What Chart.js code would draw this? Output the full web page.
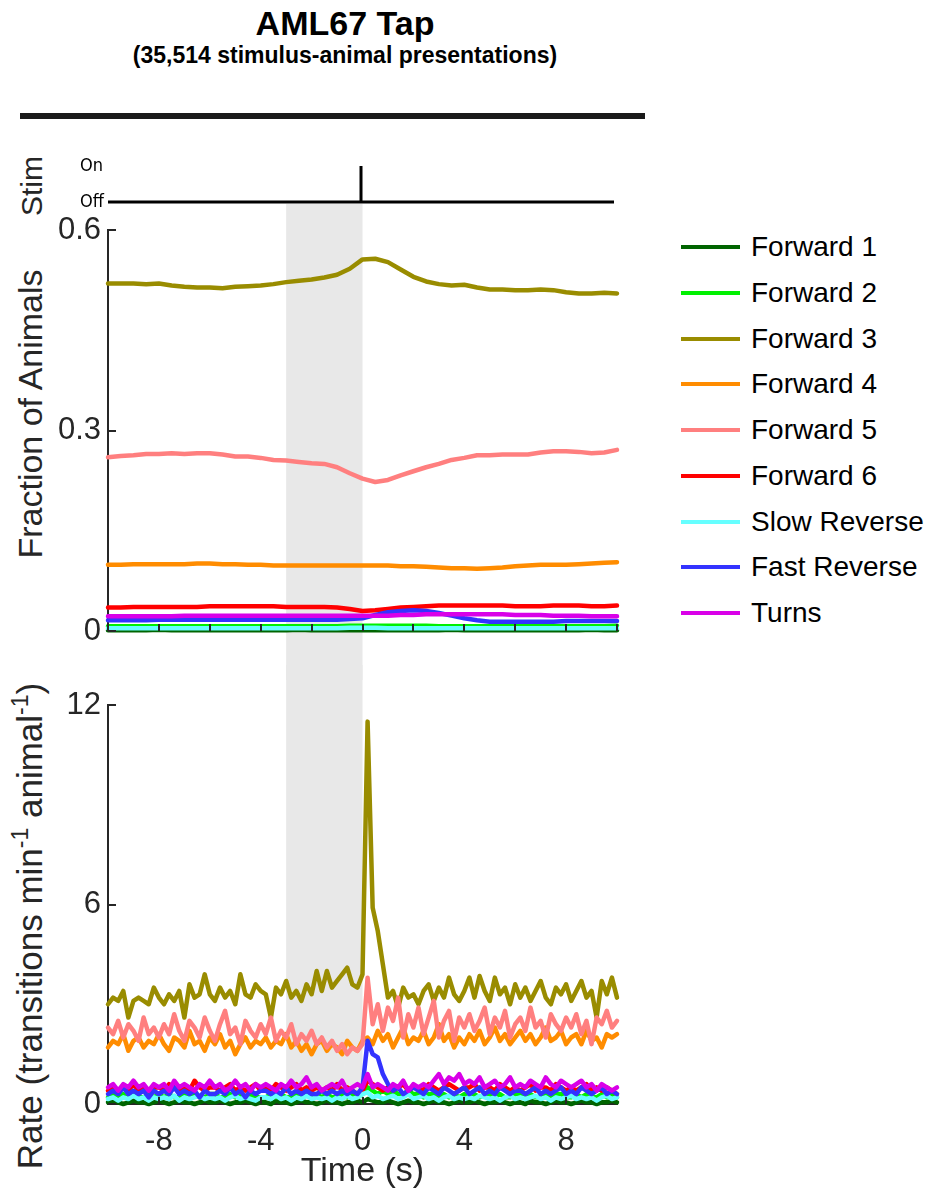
<!DOCTYPE html>
<html>
<head>
<meta charset="utf-8">
<title>AML67 Tap</title>
<script src="https://cdn.jsdelivr.net/npm/chart.js@4.4.1/dist/chart.umd.min.js"></script>
<style>
  body { margin: 0; background: #fff; }
  #fig { position: relative; width: 936px; height: 1193px; font-family: 'Liberation Sans', Arial, Helvetica, sans-serif; color: #262626; }
  #fig canvas { position: absolute; left: 0; }
  .head { position: absolute; left: 0; width: 690px; font-weight: bold; color: #000; text-align: center; white-space: nowrap; }
  #headline { top: 6px; font-size: 34px; line-height: 34px; }
  #subline { top: 44px; font-size: 23px; line-height: 23px; }
  #rule { position: absolute; left: 20px; top: 113px; width: 625px; height: 6px; background: #1a1a1a; }
  .ylab { position: absolute; white-space: nowrap; transform: translate(-50%, -50%) rotate(-90deg); font-size: 34px; line-height: 34px; }
  .ylab sup { font-size: 23px; vertical-align: 14px; line-height: 0; }
  #stimLab { left: 32px; top: 186px; font-size: 30px; }
  #fracLab { left: 30px; top: 414px; }
  #rateLab { left: 30px; top: 926px; font-size: 35px; }
  .key { position: absolute; left: 681px; width: 260px; height: 32px; }
  .key i { position: absolute; left: 0; top: 14px; width: 59px; height: 4px; }
  .key span { position: absolute; left: 70px; top: 0; font-size: 28px; line-height: 32px; color: #000; white-space: nowrap; }
</style>
</head>
<body>
<div id="fig">
  <div class="head" id="headline">AML67 Tap</div>
  <div class="head" id="subline">(35,514 stimulus-animal presentations)</div>
  <div id="rule"></div>
  <div class="ylab" id="stimLab">Stim</div>
  <div class="ylab" id="fracLab">Fraction of Animals</div>
  <div class="ylab" id="rateLab">Rate (transitions min<sup>-1</sup> animal<sup>-1</sup>)</div>
  <canvas id="stimCanvas" width="640" height="70" style="top:150px"></canvas>
  <canvas id="fracCanvas" width="640" height="490" style="top:190px"></canvas>
  <canvas id="rateCanvas" width="640" height="528" style="top:665px"></canvas>
</div>
<script>
// behaviour states, same order in both panels and the key
const behaviours = ['Forward 1', 'Forward 2', 'Forward 3', 'Forward 4', 'Forward 5', 'Forward 6', 'Slow Reverse', 'Fast Reverse', 'Turns'];
const lineColors = ['#006400', '#00f000', '#998c00', '#ff8c00', '#ff7f7f', '#ff0000', '#66ffff', '#3333ff', '#d900e8'];

// stimulus trace
const stimTime = [-10, 0, 0, 0, 10];
const stimState = [0, 0, 1, 0, 0];
const stimLevels = ['Off', 'On'];

// window shaded before the tap (s)
const shadeStart = -3;
const shadeEnd = 0;

const timeTicks = [-8, -4, 0, 4, 8];

// fraction of animals in each state, 0.5 s bins
const fracTime = [-10, -9.5, -9, -8.5, -8, -7.5, -7, -6.5, -6, -5.5, -5, -4.5, -4, -3.5, -3, -2.5, -2, -1.5, -1, -0.5,
  0, 0.5, 1, 1.5, 2, 2.5, 3, 3.5, 4, 4.5, 5, 5.5, 6, 6.5, 7, 7.5, 8, 8.5, 9, 9.5, 10];

const fracFwd1 = [0.001, 0.001, 0.001, 0.001, 0.002, 0.001, 0.001, 0.001, 0.001, 0.001,
  0.001, 0.001, 0.001, 0.001, 0.001, 0.002, 0.001, 0.001, 0.001, 0.001,
  0.001, 0.001, 0.001, 0.001, 0.001, 0.001, 0.001, 0.002, 0.001, 0.001,
  0.001, 0.001, 0.001, 0.001, 0.001, 0.001, 0.001, 0.001, 0.002, 0.001, 0.001];
const fracFwd2 = [0.007, 0.007, 0.007, 0.007, 0.007, 0.007, 0.007, 0.007, 0.007, 0.007,
  0.007, 0.007, 0.007, 0.007, 0.007, 0.007, 0.007, 0.007, 0.007, 0.008,
  0.008, 0.008, 0.008, 0.008, 0.008, 0.008, 0.007, 0.007, 0.007, 0.007,
  0.007, 0.007, 0.007, 0.007, 0.007, 0.007, 0.007, 0.007, 0.007, 0.007, 0.008];
const fracFwd3 = [0.520, 0.520, 0.520, 0.519, 0.520, 0.517, 0.515, 0.514, 0.514, 0.513,
  0.515, 0.516, 0.517, 0.519, 0.522, 0.524, 0.526, 0.529, 0.533, 0.542,
  0.556, 0.557, 0.552, 0.541, 0.530, 0.523, 0.519, 0.517, 0.518, 0.514,
  0.511, 0.511, 0.510, 0.510, 0.511, 0.510, 0.507, 0.505, 0.505, 0.506, 0.505];
const fracFwd4 = [0.099, 0.099, 0.100, 0.100, 0.100, 0.100, 0.100, 0.101, 0.101, 0.100,
  0.100, 0.099, 0.099, 0.098, 0.098, 0.098, 0.098, 0.098, 0.098, 0.098,
  0.098, 0.098, 0.098, 0.097, 0.097, 0.096, 0.095, 0.094, 0.094, 0.093,
  0.094, 0.095, 0.097, 0.098, 0.099, 0.099, 0.099, 0.100, 0.101, 0.102, 0.103];
const fracFwd5 = [0.260, 0.262, 0.263, 0.265, 0.265, 0.266, 0.265, 0.266, 0.266, 0.264,
  0.261, 0.261, 0.259, 0.256, 0.255, 0.253, 0.251, 0.250, 0.245, 0.236,
  0.228, 0.223, 0.226, 0.233, 0.239, 0.245, 0.250, 0.256, 0.259, 0.263,
  0.263, 0.264, 0.264, 0.264, 0.267, 0.269, 0.269, 0.268, 0.266, 0.267, 0.271];
const fracFwd6 = [0.035, 0.035, 0.036, 0.036, 0.036, 0.036, 0.036, 0.036, 0.037, 0.037,
  0.037, 0.037, 0.037, 0.037, 0.036, 0.036, 0.036, 0.036, 0.035, 0.033,
  0.030, 0.031, 0.033, 0.035, 0.036, 0.037, 0.038, 0.038, 0.038, 0.038,
  0.038, 0.038, 0.037, 0.037, 0.037, 0.038, 0.038, 0.038, 0.037, 0.037, 0.038];
const fracSlowRev = [0.004, 0.004, 0.004, 0.004, 0.004, 0.004, 0.004, 0.004, 0.004, 0.004,
  0.004, 0.004, 0.004, 0.004, 0.004, 0.004, 0.004, 0.004, 0.004, 0.005,
  0.005, 0.005, 0.004, 0.004, 0.004, 0.004, 0.004, 0.004, 0.004, 0.004,
  0.004, 0.004, 0.004, 0.004, 0.004, 0.004, 0.004, 0.004, 0.004, 0.004, 0.004];
const fracFastRev = [0.016, 0.016, 0.016, 0.016, 0.017, 0.017, 0.017, 0.017, 0.017, 0.017,
  0.017, 0.017, 0.017, 0.017, 0.017, 0.017, 0.017, 0.017, 0.017, 0.018,
  0.019, 0.024, 0.028, 0.030, 0.031, 0.030, 0.027, 0.023, 0.019, 0.016,
  0.014, 0.014, 0.014, 0.014, 0.014, 0.014, 0.015, 0.015, 0.015, 0.015, 0.015];
const fracTurns = [0.022, 0.022, 0.022, 0.022, 0.022, 0.022, 0.023, 0.023, 0.023, 0.023,
  0.023, 0.023, 0.023, 0.023, 0.023, 0.023, 0.023, 0.023, 0.023, 0.023,
  0.023, 0.023, 0.023, 0.024, 0.024, 0.025, 0.025, 0.025, 0.025, 0.025,
  0.025, 0.025, 0.024, 0.024, 0.024, 0.023, 0.023, 0.023, 0.022, 0.022, 0.022];

// transition rates (per min per animal), 0.2 s bins
const rateTime = [-10,
  -9.8, -9.6, -9.4, -9.2, -9, -8.8, -8.6, -8.4, -8.2, -8,
  -7.8, -7.6, -7.4, -7.2, -7, -6.8, -6.6, -6.4, -6.2, -6,
  -5.8, -5.6, -5.4, -5.2, -5, -4.8, -4.6, -4.4, -4.2, -4,
  -3.8, -3.6, -3.4, -3.2, -3, -2.8, -2.6, -2.4, -2.2, -2,
  -1.8, -1.6, -1.4, -1.2, -1, -0.8, -0.6, -0.4, -0.2, 0,
  0.2, 0.4, 0.6, 0.8, 1, 1.2, 1.4, 1.6, 1.8, 2,
  2.2, 2.4, 2.6, 2.8, 3, 3.2, 3.4, 3.6, 3.8, 4,
  4.2, 4.4, 4.6, 4.8, 5, 5.2, 5.4, 5.6, 5.8, 6,
  6.2, 6.4, 6.6, 6.8, 7, 7.2, 7.4, 7.6, 7.8, 8,
  8.2, 8.4, 8.6, 8.8, 9, 9.2, 9.4, 9.6, 9.8, 10];

const rateFwd1 = [0.05,
  0.1, 0.05, 0, 0.05, 0.1, 0.05, 0.05, 0, 0.05, 0.1,
  0.05, 0, 0.05, 0.1, 0.05, 0.05, 0, 0.05, 0.1, 0.05,
  0.05, 0.1, 0.05, 0, 0.05, 0.05, 0.1, 0.05, 0, 0.05,
  0.05, 0, 0.1, 0.05, 0.05, 0, 0.05, 0.1, 0.05, 0.05,
  0, 0.05, 0.1, 0.05, 0.05, 0, 0.05, 0.05, 0.1, 0.05,
  0.15, 0.1, 0.05, 0.05, 0.1, 0.05, 0, 0.05, 0.1, 0.05,
  0.05, 0, 0.05, 0.1, 0.05, 0.05, 0, 0.05, 0.1, 0.05,
  0.05, 0.1, 0.05, 0, 0.05, 0.05, 0.1, 0.05, 0, 0.05,
  0.05, 0, 0.1, 0.05, 0.05, 0, 0.05, 0.1, 0.05, 0.05,
  0, 0.05, 0.1, 0.05, 0.05, 0, 0.05, 0.05, 0.1, 0.05];
const rateFwd2 = [0.2,
  0.3, 0.2, 0.3, 0.2, 0.3, 0.2, 0.2, 0.3, 0.2, 0.3,
  0.2, 0.3, 0.2, 0.2, 0.3, 0.2, 0.3, 0.2, 0.2, 0.3,
  0.3, 0.2, 0.2, 0.3, 0.2, 0.3, 0.2, 0.3, 0.2, 0.2,
  0.2, 0.3, 0.2, 0.3, 0.2, 0.2, 0.3, 0.2, 0.3, 0.2,
  0.3, 0.2, 0.3, 0.2, 0.2, 0.3, 0.2, 0.3, 0.2, 0.3,
  0.5, 0.4, 0.3, 0.4, 0.3, 0.4, 0.3, 0.3, 0.4, 0.3,
  0.3, 0.2, 0.3, 0.3, 0.2, 0.3, 0.2, 0.3, 0.2, 0.3,
  0.2, 0.3, 0.2, 0.3, 0.3, 0.2, 0.3, 0.2, 0.2, 0.3,
  0.3, 0.2, 0.3, 0.2, 0.2, 0.3, 0.2, 0.3, 0.3, 0.2,
  0.2, 0.3, 0.2, 0.3, 0.2, 0.2, 0.3, 0.2, 0.3, 0.2];
const rateFwd3 = [3.0,
  3.2, 3.1, 3.4, 2.6, 3.1, 3.2, 3.1, 3.0, 3.5, 3.2,
  3.0, 3.3, 3.1, 3.4, 2.6, 3.6, 3.2, 3.3, 3.9, 3.3,
  3.1, 3.5, 3.2, 3.4, 3.0, 3.9, 3.3, 3.2, 3.6, 3.4,
  3.3, 2.6, 3.5, 3.3, 3.7, 3.2, 3.4, 3.1, 3.6, 3.3,
  4.0, 3.4, 4.0, 3.5, 3.7, 3.9, 4.1, 3.6, 3.5, 3.9,
  11.5, 5.9, 5.2, 4.2, 3.2, 3.4, 2.9, 3.5, 3.2, 3.3,
  3.0, 3.4, 3.6, 3.1, 3.5, 3.2, 3.8, 3.3, 3.1, 3.4,
  3.8, 3.2, 3.85, 3.4, 3.1, 3.8, 3.3, 3.5, 3.0, 3.6,
  3.2, 3.5, 3.1, 3.4, 3.7, 3.2, 3.0, 3.5, 3.3, 3.6,
  3.1, 3.4, 3.7, 3.2, 3.4, 2.6, 3.7, 3.3, 3.8, 3.2];
const rateFwd4 = [1.7,
  1.9, 1.8, 2.1, 1.6, 1.9, 2.0, 1.7, 1.9, 1.8, 2.1,
  1.8, 1.6, 2.0, 1.9, 1.7, 2.2, 1.8, 1.9, 1.6, 2.0,
  1.8, 2.1, 1.7, 1.9, 1.5, 1.8, 2.0, 1.7, 1.9, 1.8,
  2.0, 1.7, 1.9, 1.8, 2.1, 1.7, 1.9, 1.6, 1.8, 1.5,
  1.8, 1.9, 1.6, 1.8, 1.7, 1.5, 1.9, 1.7, 1.6, 1.9,
  2.0, 1.8, 2.2, 1.9, 2.1, 1.7, 2.0, 2.3, 1.8, 2.0,
  1.9, 2.2, 1.8, 2.0, 2.4, 1.9, 2.1, 1.7, 2.0, 1.8,
  2.1, 1.9, 2.2, 1.8, 2.0, 2.3, 1.9, 2.1, 1.8, 2.0,
  2.2, 1.9, 2.1, 1.8, 2.0, 2.3, 1.9, 2.0, 2.2, 1.8,
  2.0, 2.1, 1.8, 2.2, 1.9, 2.0, 1.7, 2.1, 2.0, 2.1];
const rateFwd5 = [2.3,
  2.1, 2.5, 2.0, 2.4, 2.2, 1.9, 2.6, 2.1, 2.3, 2.0,
  2.4, 2.1, 2.7, 2.2, 1.9, 2.5, 2.3, 2.0, 2.6, 2.2,
  1.9, 2.4, 2.8, 2.1, 2.3, 1.8, 2.5, 2.2, 2.0, 2.4,
  2.1, 2.6, 1.9, 2.2, 2.0, 2.4, 1.8, 2.1, 1.9, 2.2,
  1.8, 2.0, 1.7, 1.9, 1.6, 1.8, 1.5, 1.7, 1.6, 1.8,
  3.8, 2.4, 3.0, 2.2, 2.9, 2.5, 3.2, 2.0, 2.7, 2.3,
  2.9, 2.1, 2.6, 3.1, 2.0, 2.5, 2.8, 1.9, 2.6, 2.3,
  2.7, 2.2, 2.5, 2.9, 2.1, 2.6, 2.3, 2.8, 2.0, 2.4,
  2.6, 2.2, 2.9, 2.3, 2.5, 2.0, 2.7, 2.4, 2.2, 2.6,
  2.3, 2.7, 2.1, 2.5, 1.8, 2.6, 2.4, 2.8, 2.3, 2.5];
const rateFwd6 = [0.4,
  0.5, 0.4, 0.5, 0.4, 0.6, 0.4, 0.5, 0.4, 0.5, 0.5,
  0.4, 0.6, 0.5, 0.4, 0.5, 0.4, 0.7, 0.5, 0.4, 0.5,
  0.5, 0.4, 0.5, 0.6, 0.4, 0.5, 0.4, 0.5, 0.6, 0.4,
  0.5, 0.4, 0.6, 0.5, 0.4, 0.5, 0.6, 0.4, 0.5, 0.4,
  0.5, 0.4, 0.5, 0.4, 0.6, 0.4, 0.5, 0.4, 0.3, 0.4,
  0.7, 0.6, 0.5, 0.4, 0.5, 0.4, 0.5, 0.6, 0.4, 0.5,
  0.5, 0.4, 0.6, 0.5, 0.4, 0.5, 0.6, 0.5, 0.4, 0.5,
  0.5, 0.6, 0.4, 0.5, 0.5, 0.4, 0.6, 0.5, 0.4, 0.5,
  0.4, 0.5, 0.6, 0.4, 0.5, 0.5, 0.4, 0.6, 0.5, 0.4,
  0.5, 0.4, 0.5, 0.6, 0.4, 0.5, 0.4, 0.5, 0.4, 0.3];
const rateSlowRev = [0.15,
  0.2, 0.1, 0.2, 0.15, 0.25, 0.15, 0.2, 0.1, 0.2, 0.15,
  0.2, 0.15, 0.25, 0.1, 0.2, 0.15, 0.2, 0.25, 0.15, 0.2,
  0.15, 0.2, 0.1, 0.2, 0.25, 0.15, 0.2, 0.15, 0.1, 0.2,
  0.2, 0.15, 0.25, 0.15, 0.2, 0.1, 0.2, 0.15, 0.25, 0.15,
  0.2, 0.15, 0.2, 0.1, 0.2, 0.15, 0.25, 0.15, 0.2, 0.3,
  0.35, 0.2, 0.25, 0.15, 0.2, 0.25, 0.15, 0.2, 0.3, 0.15,
  0.2, 0.25, 0.15, 0.2, 0.1, 0.2, 0.25, 0.15, 0.2, 0.15,
  0.2, 0.15, 0.25, 0.2, 0.15, 0.2, 0.1, 0.2, 0.25, 0.15,
  0.2, 0.15, 0.2, 0.25, 0.15, 0.2, 0.1, 0.2, 0.15, 0.2,
  0.25, 0.15, 0.2, 0.15, 0.2, 0.1, 0.2, 0.25, 0.15, 0.2];
const rateFastRev = [0.3,
  0.4, 0.3, 0.5, 0.3, 0.4, 0.3, 0.4, 0.2, 0.4, 0.3,
  0.4, 0.3, 0.5, 0.3, 0.4, 0.3, 0.4, 0.2, 0.4, 0.3,
  0.3, 0.4, 0.3, 0.5, 0.3, 0.4, 0.2, 0.4, 0.3, 0.4,
  0.4, 0.3, 0.4, 0.3, 0.5, 0.3, 0.4, 0.3, 0.4, 0.3,
  0.3, 0.4, 0.3, 0.4, 0.3, 0.4, 0.3, 0.4, 0.3, 0.5,
  1.9, 1.5, 1.4, 0.9, 0.6, 0.4, 0.5, 0.3, 0.4, 0.5,
  0.4, 0.3, 0.5, 0.4, 0.3, 0.5, 0.4, 0.3, 0.4, 0.5,
  0.3, 0.4, 0.5, 0.3, 0.4, 0.3, 0.5, 0.4, 0.3, 0.4,
  0.4, 0.3, 0.4, 0.5, 0.3, 0.4, 0.3, 0.4, 0.5, 0.3,
  0.4, 0.3, 0.5, 0.4, 0.3, 0.4, 0.5, 0.3, 0.4, 0.3];
const rateTurns = [0.5,
  0.6, 0.4, 0.6, 0.5, 0.7, 0.5, 0.6, 0.4, 0.6, 0.5,
  0.6, 0.4, 0.7, 0.5, 0.6, 0.5, 0.4, 0.6, 0.5, 0.7,
  0.5, 0.6, 0.4, 0.5, 0.7, 0.5, 0.6, 0.4, 0.6, 0.5,
  0.6, 0.5, 0.4, 0.6, 0.5, 0.7, 0.5, 0.6, 0.8, 0.5,
  0.6, 0.4, 0.5, 0.6, 0.5, 0.7, 0.4, 0.5, 0.6, 0.5,
  0.9, 0.5, 0.6, 0.5, 0.4, 0.6, 0.5, 0.7, 0.4, 0.6,
  0.5, 0.6, 0.5, 0.7, 0.9, 0.6, 0.8, 0.7, 0.9, 0.6,
  0.7, 0.6, 0.8, 0.5, 0.6, 0.7, 0.5, 0.6, 0.8, 0.5,
  0.6, 0.5, 0.7, 0.6, 0.5, 0.8, 0.6, 0.5, 0.7, 0.6,
  0.5, 0.6, 0.7, 0.5, 0.6, 0.4, 0.6, 0.5, 0.4, 0.5];

const fracSeries = [fracFwd1, fracFwd2, fracFwd3, fracFwd4, fracFwd5, fracFwd6, fracSlowRev, fracFastRev, fracTurns];
const rateSeries = [rateFwd1, rateFwd2, rateFwd3, rateFwd4, rateFwd5, rateFwd6, rateSlowRev, rateFastRev, rateTurns];

Chart.defaults.font.family = "'Liberation Sans', Arial, Helvetica, sans-serif";
Chart.defaults.color = '#262626';
Chart.defaults.animation = false;
Chart.defaults.responsive = false;
Chart.defaults.plugins.legend.display = false;
Chart.defaults.plugins.tooltip.enabled = false;

const axisColor = '#262626';

// grey band over the pre-stimulus window, drawn under the axes
const shadePlugin = {
  id: 'shade',
  beforeDraw(chart, args, opts) {
    const x = chart.scales.x;
    const left = x.getPixelForValue(shadeStart);
    const right = x.getPixelForValue(shadeEnd);
    const top = opts.top || 0;
    const bottom = opts.toCanvasEdge ? chart.height : chart.chartArea.bottom;
    const ctx = chart.ctx;
    ctx.save();
    ctx.fillStyle = '#e8e8e8';
    ctx.fillRect(left, top, right - left, bottom - top);
    ctx.restore();
  }
};

// tick marks pointing into the plot, on the x and y axes
const innerTicksPlugin = {
  id: 'innerTicks',
  afterDraw(chart) {
    const area = chart.chartArea;
    const xs = chart.scales.x, ys = chart.scales.y;
    const ctx = chart.ctx;
    ctx.save();
    ctx.strokeStyle = axisColor;
    ctx.lineWidth = 2;
    ctx.beginPath();
    xs.ticks.forEach(t => {
      const px = Math.round(xs.getPixelForValue(t.value));
      ctx.moveTo(px, area.bottom);
      ctx.lineTo(px, area.bottom - 7);
    });
    ys.ticks.forEach(t => {
      const py = Math.round(ys.getPixelForValue(t.value));
      ctx.moveTo(area.left, py);
      ctx.lineTo(area.left + 8, py);
    });
    ctx.stroke();
    ctx.restore();
  }
};

function behaviourDatasets(times, series) {
  return behaviours.map((name, i) => ({
    label: name,
    data: times.map((t, k) => ({ x: t, y: series[i][k] })),
    borderColor: lineColors[i],
    borderWidth: 4.5,
    pointRadius: 0,
    borderJoinStyle: 'round',
    borderCapStyle: 'round',
    clip: false,
    order: behaviours.length - i   // later states drawn on top
  }));
}

function valueAxis(max, step) {
  return {
    min: 0, max: max,
    ticks: { stepSize: step, padding: 7, font: { size: 31 }, color: axisColor },
    grid: { display: false, drawTicks: false },
    border: { color: axisColor, width: 2 },
    afterFit(scale) { scale.width = 108; }
  };
}

// stimulus on/off
new Chart(document.getElementById('stimCanvas'), {
  type: 'line',
  data: {
    datasets: [{
      data: stimTime.map((t, k) => ({ x: t, y: stimState[k] })),
      borderColor: '#000',
      borderWidth: 3,
      pointRadius: 0,
      borderJoinStyle: 'bevel',
      clip: false
    }]
  },
  options: {
    layout: { padding: { left: 80, right: 26, top: 16, bottom: 18 } },
    scales: {
      x: { type: 'linear', min: -10, max: 10, display: false },
      y: {
        min: 0, max: 1,
        ticks: {
          stepSize: 1, crossAlign: 'far', padding: 0, color: '#000',
          font: { size: 18, family: "'DejaVu Sans Condensed', 'DejaVu Sans', sans-serif" },
          callback: v => stimLevels[v]
        },
        grid: { display: false, drawTicks: false },
        border: { display: false },
        afterFit(scale) { scale.width = 28; }
      }
    }
  }
});

// fraction of animals
new Chart(document.getElementById('fracCanvas'), {
  type: 'line',
  data: { datasets: behaviourDatasets(fracTime, fracSeries) },
  plugins: [shadePlugin, innerTicksPlugin],
  options: {
    layout: { padding: { left: 0, right: 23, top: 40, bottom: 49 } },
    plugins: { shade: { top: 14, toCanvasEdge: true } },
    scales: {
      x: {
        type: 'linear', min: -10, max: 10,
        ticks: { display: false, stepSize: 2 },
        grid: { display: false, drawTicks: false },
        border: { color: axisColor, width: 2 },
        afterFit(scale) { scale.height = 0; }
      },
      y: valueAxis(0.6, 0.3)
    }
  }
});

// transition rates
new Chart(document.getElementById('rateCanvas'), {
  type: 'line',
  data: { datasets: behaviourDatasets(rateTime, rateSeries) },
  plugins: [shadePlugin, innerTicksPlugin],
  options: {
    layout: { padding: { left: 0, right: 23, top: 40, bottom: 0 } },
    plugins: { shade: { top: 0, toCanvasEdge: false } },
    scales: {
      x: {
        type: 'linear', min: -10, max: 10,
        afterBuildTicks(scale) { scale.ticks = timeTicks.map(v => ({ value: v })); },
        ticks: { padding: 19, font: { size: 31 }, color: axisColor, autoSkip: false, maxRotation: 0 },
        grid: { display: false, drawTicks: false },
        border: { color: axisColor, width: 2 },
        title: { display: true, text: 'Time (s)', font: { size: 34 }, color: axisColor, padding: { top: 0, bottom: 1 } },
        afterFit(scale) { scale.height = 89; }
      },
      y: valueAxis(12, 6)
    }
  }
});

// key
const fig = document.getElementById('fig');
behaviours.forEach((name, i) => {
  const row = document.createElement('div');
  row.className = 'key';
  row.style.top = (247 + 45.75 * i - 16) + 'px';
  const swatch = document.createElement('i');
  swatch.style.background = lineColors[i];
  const label = document.createElement('span');
  label.textContent = name;
  row.appendChild(swatch);
  row.appendChild(label);
  fig.appendChild(row);
});
</script>
</body>
</html>
